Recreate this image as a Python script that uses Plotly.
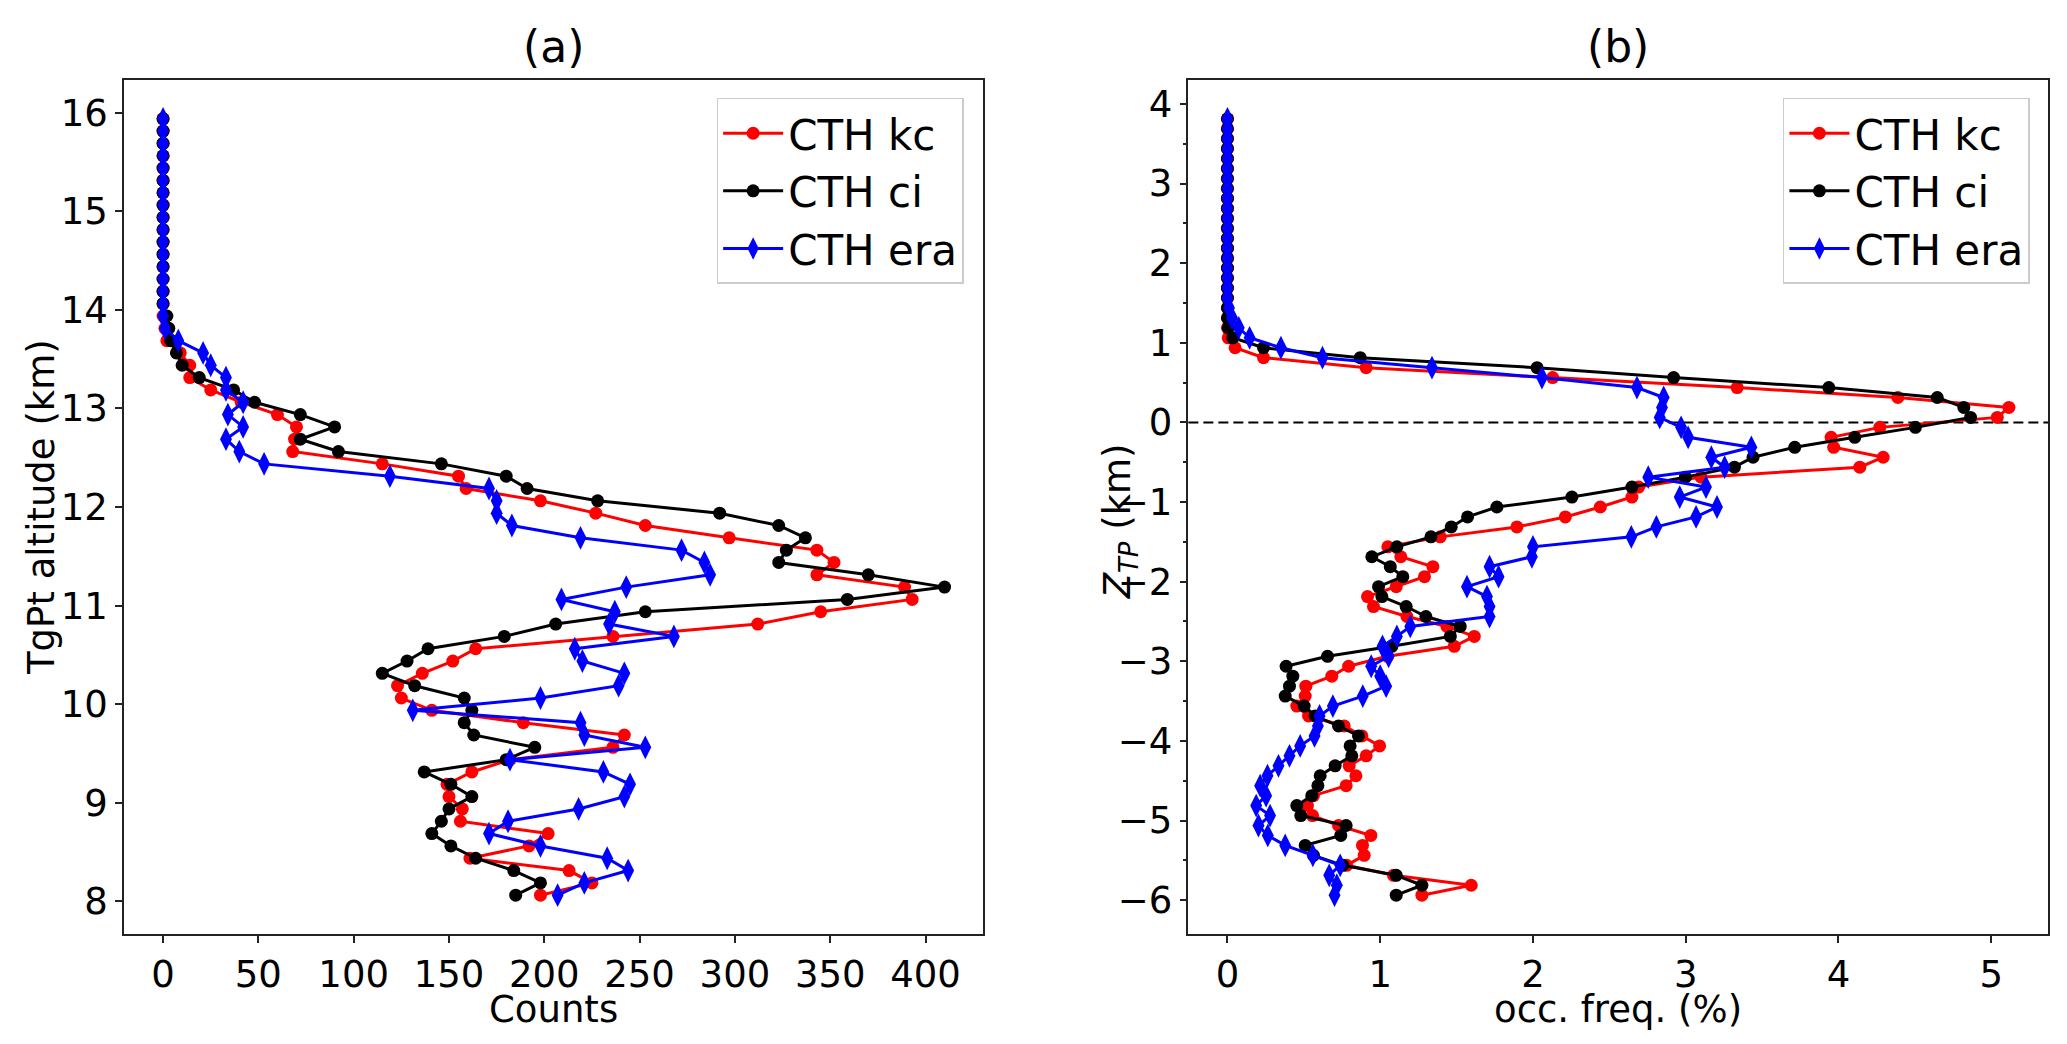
import plotly.graph_objects as go

# ---- panel (a): counts vs tropopause-relative altitude grid (0.125 km bins) ----
alt_a = [8.0625 + 0.125 * k for k in range(64)]

kc_counts = [198, 225, 213, 161, 192, 202, 156, 157, 150, 149,
             162, 182, 236, 242, 189, 141, 125, 123, 136, 152,
             164, 236, 312, 345, 393, 389, 343, 352, 343, 297,
             253, 227, 198, 159, 155, 115, 68, 69, 70, 60,
             41, 25, 14, 14, 9, 2, 1, 0] + [0] * 16
ci_counts = [185, 198, 184, 164, 151, 141, 146, 150, 162, 151,
             137, 180, 195, 163, 158, 162, 158, 132, 115, 128,
             139, 179, 206, 253, 359, 410, 370, 323, 327, 337,
             323, 292, 228, 191, 180, 146, 92, 72, 90, 72,
             48, 37, 19, 10, 7, 4, 3, 2] + [0] * 16
era_counts = [207, 221, 244, 233, 198, 171, 181, 218, 242, 245,
              231, 182, 253, 221, 219, 131, 198, 239, 242, 220,
              216, 268, 234, 237, 209, 243, 287, 284, 272, 219,
              183, 175, 175, 171, 119, 53, 40, 33, 42, 34,
              42, 33, 33, 25, 21, 8, 1, 0] + [0] * 16

# ---- panel (b): occurrence frequency vs Z_TP ----
ztp = [-5.9375 + 0.125 * j for j in range(79)]

kc_freq = [1.273, 1.596, 1.087, 0.780, 0.895, 0.884, 0.939, 0.727, 0.557, 0.524,
           0.563, 0.777, 0.841, 0.797, 0.908, 0.996, 0.880, 0.764, 0.531, 0.454,
           0.509, 0.513, 0.683, 0.793, 1.048, 1.485, 1.616, 1.437, 1.175, 0.956,
           0.917, 1.105, 1.290, 1.345, 1.135, 1.050, 1.393, 1.895, 2.212, 2.441,
           2.648, 2.692, 3.101, 4.140, 4.293, 3.969, 3.952, 4.271, 5.040, 5.116,
           4.389, 3.337, 2.129, 0.908, 0.236, 0.050, 0.005, 0.0, 0.0, 0.0] + [0.0] * 19
ci_freq = [1.105, 1.273, 1.105, 0.755, 0.563, 0.509, 0.742, 0.777, 0.480, 0.454,
           0.552, 0.592, 0.607, 0.705, 0.814, 0.803, 0.858, 0.727, 0.574, 0.502,
           0.378, 0.406, 0.428, 0.384, 0.655, 1.076, 1.459, 1.524, 1.299, 1.170,
           1.011, 0.989, 1.148, 1.066, 0.945, 1.109, 1.332, 1.465, 1.572, 1.764,
           2.255, 2.648, 2.998, 3.319, 3.441, 3.714, 4.107, 4.504, 4.865, 4.821,
           4.647, 3.937, 2.921, 2.027, 0.869, 0.236, 0.035, 0.005, 0.0, 0.0] + [0.0] * 19
era_freq = [0.701, 0.716, 0.666, 0.738, 0.559, 0.378, 0.264, 0.203, 0.279, 0.188,
            0.253, 0.214, 0.262, 0.334, 0.406, 0.476, 0.570, 0.592, 0.603, 0.690,
            0.886, 1.039, 1.000, 0.941, 1.055, 1.015, 1.109, 1.197, 1.716, 1.716,
            1.699, 1.568, 1.775, 1.716, 1.993, 2.000, 2.644, 2.808, 3.068, 3.205,
            2.961, 3.133, 2.755, 3.255, 3.168, 3.430, 3.016, 2.970, 2.830, 2.845,
            2.856, 2.681, 2.059, 1.339, 0.622, 0.350, 0.145, 0.074, 0.030, 0.010] + [0.0] * 19

names = ["CTH kc", "CTH ci", "CTH era"]
colors = ["#ff0000", "#000000", "#0000ff"]
symbols = ["circle", "circle", "diamond-tall"]
sizes = [13, 13, 17]

FONT = "DejaVu Sans"
FS = 37

fig = go.Figure()

for name, vals, col, sym, sz in zip(names, [kc_counts, ci_counts, era_counts], colors, symbols, sizes):
    fig.add_trace(go.Scatter(
        x=vals, y=alt_a, mode="lines+markers", name=name,
        line=dict(color=col, width=3),
        marker=dict(symbol=sym, size=sz, color=col, line=dict(width=0)),
        xaxis="x", yaxis="y", legend="legend"))

for name, vals, col, sym, sz in zip(names, [kc_freq, ci_freq, era_freq], colors, symbols, sizes):
    fig.add_trace(go.Scatter(
        x=vals, y=ztp, mode="lines+markers", name=name,
        line=dict(color=col, width=3),
        marker=dict(symbol=sym, size=sz, color=col, line=dict(width=0)),
        xaxis="x2", yaxis="y2", legend="legend2"))

axis_common = dict(
    showline=True, mirror=True, linecolor="#222", linewidth=1.5,
    ticks="outside", ticklen=7, tickwidth=1.5, tickcolor="#222",
    showgrid=False, zeroline=False,
    tickfont=dict(family=FONT, size=FS, color="black"),
)

legend_common = dict(
    xanchor="right", y=0.979, yanchor="top",
    bgcolor="rgba(255,255,255,0.8)", bordercolor="#cccccc", borderwidth=1.5,
    font=dict(family=FONT, size=42), itemwidth=60,
)

title_font = dict(family=FONT, size=FS, color="black")

fig.update_layout(
    width=2067, height=1044,
    paper_bgcolor="white", plot_bgcolor="white",
    margin=dict(l=124, r=19, t=80, b=110),
    font=dict(family=FONT, size=FS, color="black"),
    xaxis=dict(axis_common, domain=[0, 0.4465], range=[-20.5, 430.2],
               tickmode="linear", tick0=0, dtick=50, anchor="y"),
    yaxis=dict(axis_common, domain=[0, 1], range=[7.669, 16.331],
               tickmode="linear", tick0=8, dtick=1, anchor="x"),
    xaxis2=dict(axis_common, domain=[0.5532, 1], range=[-0.256, 5.372],
                tickmode="linear", tick0=0, dtick=1, anchor="y2"),
    yaxis2=dict(axis_common, domain=[0, 1], range=[-6.425, 4.3],
                tickmode="linear", tick0=0, dtick=1, anchor="x2",
                minor=dict(ticks="outside", ticklen=4, tickwidth=1.5,
                           tickcolor="#222", dtick=0.5, tick0=0)),
    legend=dict(legend_common, x=0.4364),
    legend2=dict(legend_common, x=0.9906),
    annotations=[
        dict(text="(a)", x=0.2233, y=1, xref="paper", yref="paper",
             xanchor="center", yanchor="bottom", yshift=6, showarrow=False,
             font=dict(family=FONT, size=44)),
        dict(text="(b)", x=0.7766, y=1, xref="paper", yref="paper",
             xanchor="center", yanchor="bottom", yshift=6, showarrow=False,
             font=dict(family=FONT, size=44)),
        # axis titles
        dict(text="Counts", x=0.2233, y=0, xref="paper", yref="paper",
             xanchor="center", yanchor="top", yshift=-52, showarrow=False,
             font=title_font),
        dict(text="occ. freq. (%)", x=0.7766, y=0, xref="paper", yref="paper",
             xanchor="center", yanchor="top", yshift=-52, showarrow=False,
             font=title_font),
        dict(text="TgPt altitude (km)", x=0, y=0.5, xref="paper", yref="paper",
             xanchor="center", yanchor="middle", xshift=-83, textangle=-90,
             showarrow=False, font=title_font),
        dict(text="<i>Z</i><sub><i>TP</i></sub> (km)", x=0.5532, y=0.5,
             xref="paper", yref="paper", xanchor="center", yanchor="middle",
             xshift=-68, yshift=-14, textangle=-90, showarrow=False,
             font=title_font),
    ],
    shapes=[
        dict(type="line", xref="x2 domain", yref="y2", x0=0, x1=1, y0=0, y1=0,
             line=dict(color="black", width=2, dash="10px,5px"), layer="below"),
    ],
)

fig.write_html("out.html", config={"displayModeBar": False},
               post_script="document.body.style.margin='0';")
